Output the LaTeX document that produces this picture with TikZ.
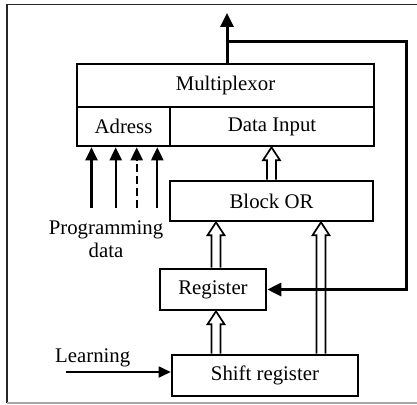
\documentclass[tikz,border=0pt]{standalone}
\usepackage{fontspec}
\setmainfont{Liberation Serif}
\usetikzlibrary{arrows.meta,calc}

\tikzset{
  txt/.style={font=\fontsize{20.8}{23}\selectfont},
  box/.style={draw, line width=2.6pt, inner sep=0pt, txt},
  signal/.style={line width=3pt, -{Triangle[length=14pt,width=13pt]}},
  prog/.style={line width=2.2pt, -{Triangle[length=13pt,width=12pt]}},
  learn/.style={line width=1.8pt, -{Triangle[length=12pt,width=11pt]}},
  hollow/.style={draw, fill=white, line width=1.7pt, line join=miter},
}

% hollow (bus) arrow pointing upward: #1 tail, #2 tip
\newcommand\busarrow[2]{%
  \path[hollow] let \p1=(#1), \p2=(#2) in
    (\x1-4.5pt,\y1) -- (\x1-4.5pt,\y2-13pt) -- (\x1-8.5pt,\y2-13pt) --
    (\x1,\y2) -- (\x1+8.5pt,\y2-13pt) -- (\x1+4.5pt,\y2-13pt) -- (\x1+4.5pt,\y1);}

\begin{document}
\begin{tikzpicture}[x=1pt,y=-1pt]
\useasboundingbox (0,0) rectangle (417,404);

% frame
\draw[line width=1.9pt, black!85] (7,403) -- (7,4.5) -- (417,4.5);
\draw[line width=1.6pt, black!35] (7,403) -- (417,403);

% blocks
\node[box, minimum width=297pt, minimum height=43pt] (mux) at (225.5,85.5) {Multiplexor};
\node[box, minimum width=93pt,  minimum height=39pt] (adr) at (123.5,126.5) {Adress};
\node[box, minimum width=204pt, minimum height=39pt] (din) at (272,126.5) {Data Input};
\node[box, minimum width=203pt, minimum height=40pt] (blk) at (271.5,201) {Block OR};
\node[box, minimum width=106pt, minimum height=41pt] (reg) at (213,289.5) {Register};
\node[box, minimum width=186pt, minimum height=41pt] (shf) at (265,375.5) {Shift register};

% labels
\node[txt, inner sep=0pt, align=center, anchor=north] (pd) at (106,221) {Programming\\data};
\node[txt, inner sep=0pt, anchor=base west] (lrn) at (55,362) {Learning};

% helper coordinates
\coordinate (out) at (227,13);
\coordinate (fb) at (227,42);
\coordinate (fbr) at (406,42);
\coordinate (p1) at (91.5,208);
\coordinate (p2) at (115.7,208);
\coordinate (p3) at (136.7,208);
\coordinate (p4) at (157.3,208);
\coordinate (lin) at (66,372);
\coordinate (bl) at (216,0);
\coordinate (br) at (321,0);

% bus arrows
\busarrow{blk.north}{din.south}
\busarrow{reg.north -| bl}{blk.south -| bl}
\busarrow{shf.north -| br}{blk.south -| br}
\busarrow{shf.north -| bl}{reg.south -| bl}

% output and feedback
\draw[signal] (mux.north -| out) -- (out);
\draw[signal] (fb) -- (fbr) |- (reg.east);

% programming data inputs
\draw[prog] (p1) -- (p1 |- adr.south);
\draw[prog] (p2) -- (p2 |- adr.south);
\draw[prog, dash pattern=on 8pt off 4pt] (p3) -- (p3 |- adr.south);
\draw[prog] (p4) -- (p4 |- adr.south);

% learning input
\draw[learn] (lin) -- (lin -| shf.west);
\end{tikzpicture}
\end{document}
